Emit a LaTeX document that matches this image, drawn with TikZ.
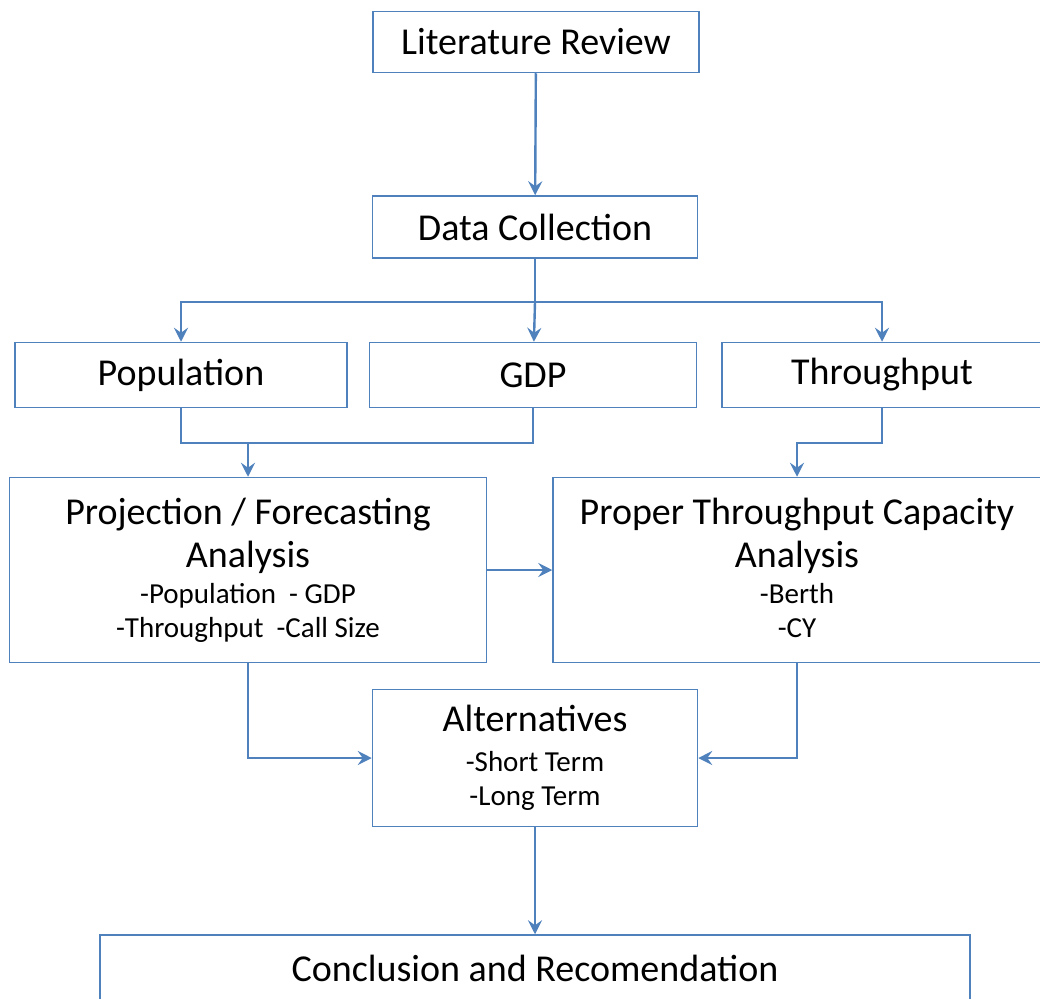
\documentclass[tikz,border=0pt]{standalone}
\usepackage{fontspec}
\setmainfont{Carlito}
\definecolor{officeblue}{RGB}{79,129,189}
\usetikzlibrary{arrows.meta,positioning,calc}
\newcommand{\subsize}{\fontsize{29}{34}\selectfont}

\begin{document}
\begin{tikzpicture}[x=1pt,y=-1pt,
        box/.style={draw=officeblue,line width=1.5pt,fill=white,inner sep=0pt,
                    font=\fontsize{38}{44}\selectfont,align=center},
        arrow/.style={-{Stealth[length=14pt,width=14pt,inset=5pt]},line width=2.4pt,color=officeblue},
        line/.style={line width=2.4pt,color=officeblue}
    ]
    \useasboundingbox (0,0) rectangle (1040,998);
        % Nodes
        \node[box,minimum width=326pt,minimum height=61pt] (lit) at (536,42) {Literature Review};
        \node[box,minimum width=325pt,minimum height=62pt] (data) at (535,227) {Data Collection};
        \node[box,minimum width=332pt,minimum height=65pt] (pop) at (181,375) {Population};
        \node[box,minimum width=327pt,minimum height=65pt] (gdp) at (533,375) {GDP};
        \node[box,minimum width=320pt,minimum height=65pt] (thr) at (882,375) {Throughput};
        \node[box,minimum width=477pt,minimum height=185pt] (proj) at (248,570)
            {Projection / Forecasting\\[-1pt]Analysis\\[-8pt]\subsize -Population\ \ - GDP\\[-10pt]\subsize -Throughput\ \ -Call Size};
        \node[box,minimum width=488pt,minimum height=185pt] (prop) at (797,570)
            {Proper Throughput Capacity\\[-1pt]Analysis\\[-8pt]\subsize -Berth\\[-10pt]\subsize -CY\vphantom{g}};
        \node[box,minimum width=325pt,minimum height=137pt] (alt) at (535,758)
            {Alternatives\\[-4pt]\subsize -Short Term\\[-10pt]\subsize -Long Term};
        \node[box,minimum width=870pt,minimum height=66pt] (conc) at (535,968) {Conclusion and Recomendation};

        % Bends
        \coordinate (split) at (535,302);
        \coordinate (merge) at (248,443);
        \coordinate (thrbend) at (882,443);

        % Arrows
        \draw[arrow] (lit) -- (data);
        \draw[line] (data) -- (split);
        \draw[arrow] (split) -| (pop);
        \draw[arrow] (split) -- (gdp);
        \draw[arrow] (split) -| (thr);
        \draw[line] (pop) |- (merge);
        \draw[line] (gdp) |- (merge);
        \draw[arrow] (merge) -- (proj);
        \draw[arrow] (thr) -- (thrbend) -| (prop);
        \draw[arrow] (proj) -- (prop);
        \draw[arrow] (proj) |- (alt);
        \draw[arrow] (prop) |- (alt);
        \draw[arrow] (alt) -- (conc);
    \end{tikzpicture}
\end{document}
